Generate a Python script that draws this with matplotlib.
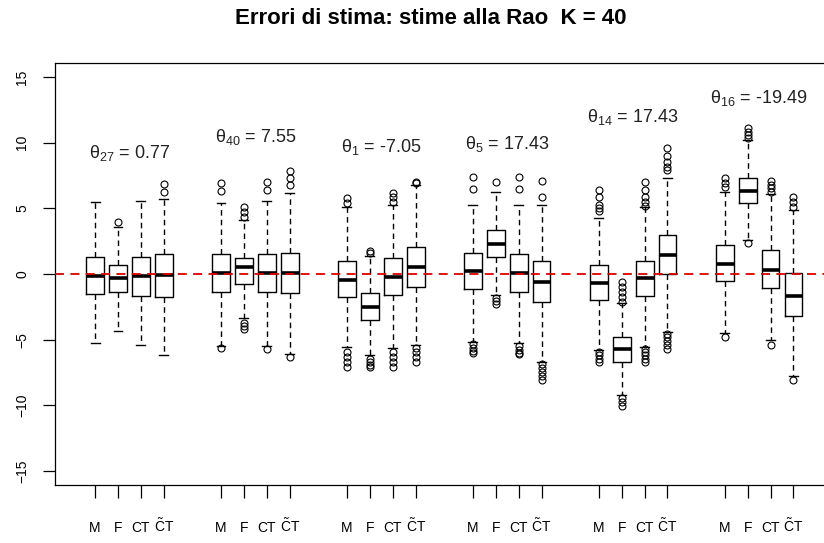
import matplotlib
matplotlib.use('Agg')
import matplotlib.pyplot as plt
from matplotlib import font_manager

# --- data (order within each group: M, F, CT, CT~) ---
groups = ['27', '40', '1', '5', '14', '16']
theta_values = ['0.77', '7.55', '-7.05', '17.43', '17.43', '-19.49']
theta_label_y = [9.2, 10.4, 9.7, 9.9, 11.95, 13.4]
box_labels = ['M', 'F', 'CT', r'$\mathsf{\tilde{C}T}$']

whislo = [-5.28, -4.31, -5.40, -6.19,
          -5.45, -3.37, -5.50, -6.09,
          -5.58, -6.20, -5.66, -5.40,
          -5.15, -1.60, -5.28, -6.67,
          -5.78, -9.21, -5.53, -4.39,
          -4.52, 2.59, -5.02, -7.76]
q1 = [-1.55, -1.35, -1.67, -1.75,
      -1.35, -0.76, -1.35, -1.47,
      -1.72, -3.50, -1.60, -0.96,
      -1.14, 1.32, -1.35, -2.15,
      -1.98, -6.67, -1.67, 0.00,
      -0.53, 5.38, -1.04, -3.20]
med = [-0.15, -0.30, -0.15, -0.10,
       0.10, 0.51, 0.05, 0.05,
       -0.46, -2.54, -0.20, 0.51,
       0.25, 2.26, 0.08, -0.63,
       -0.71, -5.73, -0.30, 1.45,
       0.74, 6.34, 0.30, -1.67]
q3 = [1.29, 0.68, 1.29, 1.50,
      1.50, 1.19, 1.50, 1.57,
      0.99, -1.47, 1.19, 2.08,
      1.57, 3.35, 1.50, 0.99,
      0.68, -4.82, 1.01, 2.97,
      2.21, 7.33, 1.83, 0.05]
whishi = [5.45, 3.60, 5.58, 5.68,
          5.38, 4.10, 5.56, 6.19,
          5.12, 1.37, 5.25, 6.77,
          5.25, 6.27, 5.25, 5.25,
          4.24, -2.23, 5.07, 7.28,
          6.27, 10.20, 6.06, 4.87]
fliers = [[], [3.98], [], [6.27, 6.85],
          [6.34, 6.90, -5.61], [4.36, 4.74, 5.07, -3.75, -3.95, -4.15],
          [6.39, 6.98, -5.73], [6.77, 7.31, 7.86, -6.35],
          [5.43, 5.76, -5.91, -6.29, -6.67, -7.05],
          [1.57, 1.75, -6.45, -6.70, -6.95, -7.10],
          [5.50, 5.83, 6.19, -5.90, -6.30, -6.70, -7.10],
          [6.90, 7.03, -5.60, -5.95, -6.30, -6.70],
          [6.44, 7.36, -5.35, -5.60, -5.85, -6.00],
          [7.03, -1.80, -2.05, -2.30],
          [6.44, 7.36, -5.50, -5.75, -6.00, -6.10],
          [5.83, 7.10, -6.85, -7.15, -7.45, -7.75, -8.05],
          [4.82, 5.00, 5.25, 5.83, 6.39, -5.95, -6.20, -6.45, -6.70],
          [-0.58, -0.96, -1.35, -1.72, -2.10, -9.45, -9.75, -10.05],
          [5.17, 5.50, 5.83, 6.39, 7.03, -5.70, -5.95, -6.20, -6.45, -6.70],
          [7.91, 8.17, 8.55, 8.98, 9.57, -4.55, -4.80, -5.10, -5.40, -5.70],
          [6.60, 6.90, 7.28, -4.77],
          [10.33, 10.58, 10.83, 11.09, 2.33],
          [6.27, 6.52, 6.77, 7.08, -5.40],
          [5.12, 5.50, 5.88, -8.07]]

# fonts (R-like Arial look)
names = {f.name for f in font_manager.fontManager.ttflist}
narrow = 'Liberation Sans Narrow' if 'Liberation Sans Narrow' in names else 'Liberation Sans'
plt.rcParams['font.family'] = ['Liberation Sans', 'DejaVu Sans']
plt.rcParams['mathtext.fontset'] = 'custom'
plt.rcParams['mathtext.rm'] = 'Liberation Sans'
plt.rcParams['mathtext.it'] = 'Liberation Sans:italic'
plt.rcParams['mathtext.sf'] = narrow

# positions: groups of 4 boxes, 5.5 units apart
positions = [g * 5.5 + k + 1 for g in range(len(groups)) for k in range(4)]

stats = []
for i in range(len(positions)):
    stats.append(dict(whislo=whislo[i], q1=q1[i], med=med[i], q3=q3[i],
                      whishi=whishi[i], fliers=fliers[i]))

fig = plt.figure(figsize=(8.24, 5.43), dpi=100)
ax = fig.add_axes([55 / 824, 1 - 485 / 543, (833.5 - 55) / 824, 422 / 543])

ax.bxp(stats, positions=positions, widths=0.78, capwidths=0.39,
       boxprops=dict(color='black', lw=1.0),
       whiskerprops=dict(color='black', lw=1.0, linestyle=(0, (4, 3))),
       capprops=dict(color='black', lw=1.0),
       medianprops=dict(color='black', lw=2.6, solid_capstyle='butt'),
       flierprops=dict(marker='o', markerfacecolor='none', markeredgecolor='black',
                       markersize=5, markeredgewidth=0.8, linestyle='none'))

# reference line at zero, drawn over the boxes
ax.axhline(0, color='#dd0000', lw=1.3, ls=(0, (5, 3.5)), zorder=5)

# theta labels above each group
for g in range(len(groups)):
    xc = sum(positions[g * 4:g * 4 + 4]) / 4
    ax.text(xc, theta_label_y[g], 'θ$_{%s}$ = %s' % (groups[g], theta_values[g]),
            ha='center', va='center', fontsize=13, color='#222222')

ax.set_xlim(-0.75, 33.25)
ax.set_ylim(-16.06, 16.06)

ax.set_yticks(range(-15, 16, 5))
ax.tick_params(axis='y', length=8.6, width=0.9, pad=10, labelsize=10, labelrotation=90)
for lbl in ax.get_yticklabels():
    lbl.set_verticalalignment('center')

ax.set_xticks(positions)
ax.set_xticklabels(box_labels * len(groups), fontfamily=narrow, fontsize=10)
ax.tick_params(axis='x', length=9.4, width=0.9, pad=24.5)
for lbl in ax.get_xticklabels():
    lbl.set_verticalalignment('baseline')

for sp in ax.spines.values():
    sp.set_linewidth(0.9)

fig.text(431 / 824, 1 - 19 / 543, 'Errori di stima: stime alla Rao  K = 40',
         ha='center', va='center', fontsize=16, fontweight='bold')

fig.savefig('out.png', dpi=100)
